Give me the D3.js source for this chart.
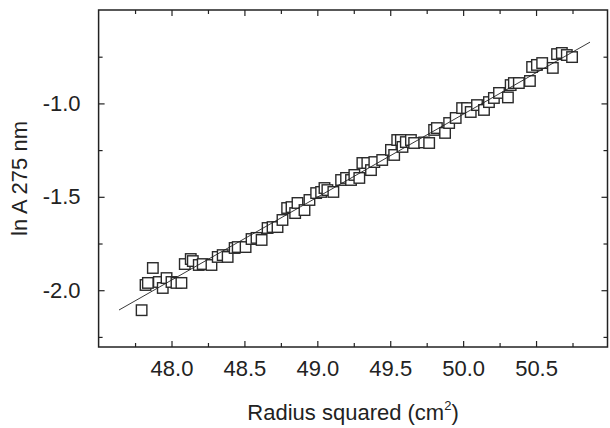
<!DOCTYPE html>
<html>
<head>
<meta charset="utf-8">
<script src="https://cdn.jsdelivr.net/npm/d3@7"></script>
<style>
body { margin: 0; background: #fff; }
text { font-family: "Liberation Sans", Arial, Helvetica, sans-serif; fill: #222; }
</style>
</head>
<body>
<div id="chart"></div>
<script>
// radius squared (cm^2) vs ln A at 275 nm
let radiusSq = [47.795, 47.822, 47.838, 47.872, 47.913, 47.94, 47.966, 48.0, 48.034, 48.068,
    48.091, 48.132, 48.146, 48.187, 48.214, 48.274, 48.317, 48.351, 48.385, 48.433,
    48.454, 48.508, 48.549, 48.583, 48.618, 48.659, 48.693, 48.727, 48.761, 48.793,
    48.823, 48.848, 48.864, 48.912, 48.946, 48.992, 49.026, 49.049, 49.069, 49.11,
    49.163, 49.197, 49.231, 49.254, 49.288, 49.309, 49.343, 49.368, 49.391, 49.445,
    49.505, 49.527, 49.548, 49.573, 49.584, 49.607, 49.642, 49.664, 49.733, 49.767,
    49.801, 49.82, 49.876, 49.904, 49.949, 49.993, 50.027, 50.052, 50.095, 50.143,
    50.177, 50.211, 50.246, 50.307, 50.326, 50.348, 50.382, 50.458, 50.473, 50.506,
    50.542, 50.615, 50.644, 50.677, 50.711, 50.747];
let lnA = [-2.107, -1.972, -1.961, -1.881, -1.956, -1.988, -1.935, -1.956, -1.961, -1.961,
    -1.860, -1.833, -1.844, -1.865, -1.860, -1.865, -1.822, -1.812, -1.822, -1.774,
    -1.769, -1.769, -1.726, -1.720, -1.731, -1.667, -1.662, -1.662, -1.624, -1.560,
    -1.555, -1.587, -1.533, -1.571, -1.517, -1.480, -1.474, -1.453, -1.464, -1.474,
    -1.410, -1.399, -1.410, -1.383, -1.399, -1.319, -1.319, -1.357, -1.314, -1.303,
    -1.249, -1.276, -1.196, -1.196, -1.233, -1.207, -1.196, -1.212, -1.209, -1.212,
    -1.142, -1.132, -1.158, -1.105, -1.078, -1.025, -1.025, -1.046, -1.009, -1.035,
    -0.993, -0.971, -0.944, -0.968, -0.902, -0.891, -0.891, -0.880, -0.805, -0.794,
    -0.784, -0.810, -0.736, -0.730, -0.741, -0.752];

// linear fit end points
let fitX = [47.64, 50.87];
let fitY = [-2.106, -0.672];

let xMajor = [48.0, 48.5, 49.0, 49.5, 50.0, 50.5];
let xMinor = [47.75, 48.25, 48.75, 49.25, 49.75, 50.25, 50.75];
let yMajor = [-1.0, -1.5, -2.0];
let yMinor = [-0.75, -1.25, -1.75, -2.25];

let width = 610, height = 428;
let margin = {top: 10, right: 2, bottom: 81, left: 98.6};

let svg = d3.select("#chart").append("svg")
    .attr("width", width)
    .attr("height", height);

let xScale = d3.scaleLinear().domain([47.5, 50.99]).range([margin.left, width - margin.right - 0.5]);
let yScale = d3.scaleLinear().domain([-2.304, -0.5]).range([height - margin.bottom, margin.top]);

let points = radiusSq.map((d, i) => ({x: d, y: lnA[i]}));
let fit = fitX.map((d, i) => ({x: d, y: fitY[i]}));

// plain hyphen for negatives, like the original figure
let fmt = d => d.toFixed(1);

// axes, ticks pointing inward on all four sides
function drawAxis(axisFn, scale, values, size, pad, transform) {
    let g = svg.append("g")
        .attr("transform", transform)
        .call(axisFn(scale).tickValues(values).tickSize(-size).tickPadding(pad || 0)
            .tickFormat(pad ? fmt : ""));
    g.select(".domain").remove();
    g.selectAll(".tick line").attr("stroke", "#222").attr("stroke-width", 1.2);
    g.selectAll(".tick text").style("font-size", "22px").attr("fill", "#222");
    return g;
}

let bottomY = yScale(-2.304), topY = yScale(-0.5);
let leftX = xScale(47.5), rightX = xScale(50.99);

drawAxis(d3.axisBottom, xScale, xMajor, 6, 13, "translate(0," + bottomY + ")");
drawAxis(d3.axisBottom, xScale, xMinor, 4, 0, "translate(0," + bottomY + ")");
drawAxis(d3.axisTop, xScale, xMajor, 6, 0, "translate(0," + topY + ")");
drawAxis(d3.axisTop, xScale, xMinor, 4, 0, "translate(0," + topY + ")");
drawAxis(d3.axisLeft, yScale, yMajor, 6, 18, "translate(" + leftX + ",0)");
drawAxis(d3.axisLeft, yScale, yMinor, 4, 0, "translate(" + leftX + ",0)");
drawAxis(d3.axisRight, yScale, yMajor, 6, 0, "translate(" + rightX + ",0)");
drawAxis(d3.axisRight, yScale, yMinor, 4, 0, "translate(" + rightX + ",0)");

svg.append("rect")
    .attr("x", leftX)
    .attr("y", topY)
    .attr("width", rightX - leftX)
    .attr("height", bottomY - topY)
    .style("fill", "none")
    .style("stroke", "#222")
    .style("stroke-width", 1.5);

// data squares
let side = 10.5;
svg.selectAll(".pt")
    .data(points)
    .enter().append("rect")
    .attr("class", "pt")
    .attr("x", d => xScale(d.x) - side / 2)
    .attr("y", d => yScale(d.y) - side / 2)
    .attr("width", side)
    .attr("height", side)
    .style("fill", "#fff")
    .style("stroke", "#2a2a2a")
    .style("stroke-width", 1.4);

let line = d3.line().x(d => xScale(d.x)).y(d => yScale(d.y));
svg.append("path")
    .attr("d", line(fit))
    .style("fill", "none")
    .style("stroke", "#222")
    .style("stroke-width", 0.9);

// axis titles
let xTitle = svg.append("text")
    .attr("x", (leftX + rightX) / 2)
    .attr("y", 420)
    .attr("text-anchor", "middle")
    .style("font-size", "22px");
xTitle.append("tspan").text("Radius squared (cm");
xTitle.append("tspan").text("2").attr("dy", -10).style("font-size", "13px");
xTitle.append("tspan").text(")").attr("dy", 10);

svg.append("text")
    .attr("transform", "translate(27," + ((topY + bottomY) / 2) + ") rotate(-90)")
    .attr("text-anchor", "middle")
    .style("font-size", "22px")
    .text("ln A 275 nm");
</script>
</body>
</html>
